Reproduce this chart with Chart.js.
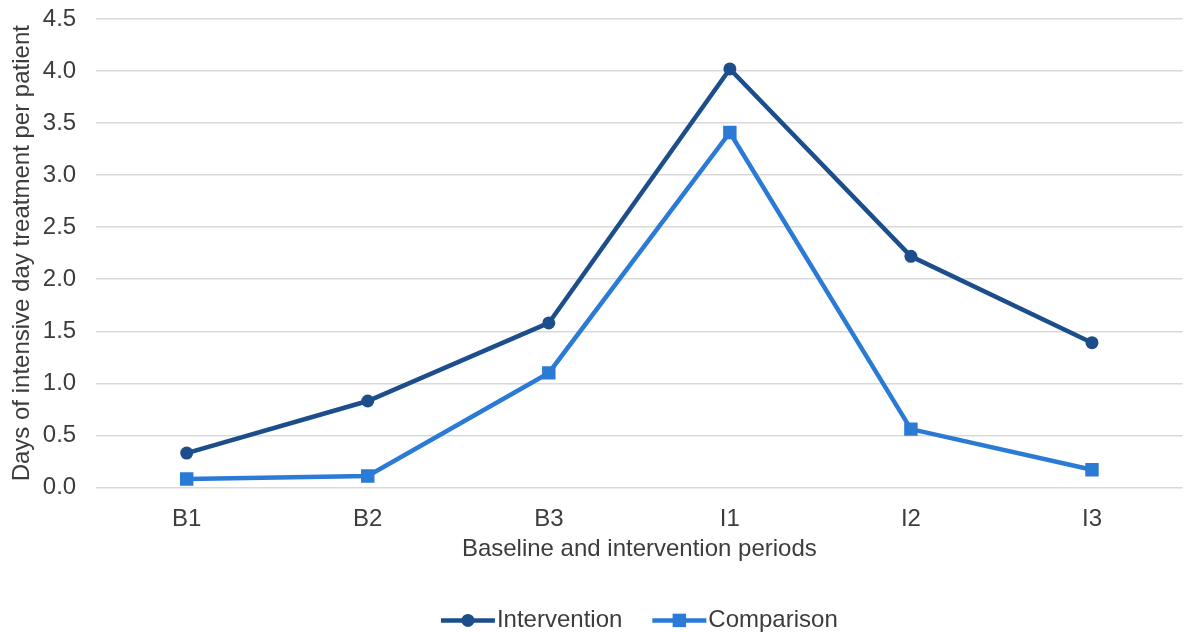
<!DOCTYPE html>
<html>
<head>
<meta charset="utf-8">
<script src="https://cdn.jsdelivr.net/npm/chart.js@4/dist/chart.umd.min.js"></script>
<style>
  html, body { margin: 0; padding: 0; background: #fff; overflow: hidden; }
  #wrap { width: 1192px; height: 633px; }
</style>
</head>
<body>
<div id="wrap"><canvas id="chart"></canvas></div>
<script>
const periods = ['B1', 'B2', 'B3', 'I1', 'I2', 'I3'];
const intervention = [0.33, 0.83, 1.58, 4.02, 2.22, 1.39];
const comparison = [0.08, 0.11, 1.10, 3.41, 0.56, 0.17];
const yTicks = [0, 0.5, 1, 1.5, 2, 2.5, 3, 3.5, 4, 4.5];

const darkBlue = '#1d4e8c';
const lightBlue = '#2a7ad6';
const textColor = '#3c3c3c';
const fontFamily = '"Liberation Sans", Arial, sans-serif';
const fontSize = 24;
const clear = 'rgba(0,0,0,0)';

// legend with a short line + marker in front of each label
const lineLegend = {
  id: 'lineLegend',
  afterDraw(chart) {
    const { ctx, chartArea } = chart;
    const y = chartArea.bottom + 133;
    const lineLen = 54, gap = 2, spacing = 30;
    ctx.save();
    ctx.font = fontSize + 'px ' + fontFamily;
    const items = chart.data.datasets.map(ds => ({
      ds, w: lineLen + gap + ctx.measureText(ds.label).width
    }));
    const total = items.reduce((s, it) => s + it.w, 0) + spacing * (items.length - 1);
    let x = (chartArea.left + chartArea.right) / 2 - total / 2;
    items.forEach(({ ds, w }) => {
      ctx.strokeStyle = ds.borderColor;
      ctx.lineWidth = ds.borderWidth;
      ctx.beginPath();
      ctx.moveTo(x, y);
      ctx.lineTo(x + lineLen, y);
      ctx.stroke();
      ctx.fillStyle = ds.borderColor;
      ctx.beginPath();
      if (ds.pointStyle === 'circle') {
        ctx.arc(x + lineLen / 2, y, ds.pointRadius, 0, Math.PI * 2);
      } else {
        const s = ds.pointRadius * Math.SQRT1_2;
        ctx.rect(x + lineLen / 2 - s, y - s, 2 * s, 2 * s);
      }
      ctx.fill();
      ctx.fillStyle = textColor;
      ctx.textBaseline = 'middle';
      ctx.textAlign = 'left';
      ctx.fillText(ds.label, x + lineLen + gap, y);
      x += w + spacing;
    });
    ctx.restore();
  }
};

new Chart(document.getElementById('chart'), {
  type: 'line',
  data: {
    labels: periods,
    datasets: [
      {
        label: 'Intervention',
        data: intervention,
        borderColor: darkBlue,
        backgroundColor: darkBlue,
        borderWidth: 4.5,
        pointStyle: 'circle',
        pointRadius: 6.5,
        pointBorderWidth: 0,
        tension: 0
      },
      {
        label: 'Comparison',
        data: comparison,
        borderColor: lightBlue,
        backgroundColor: lightBlue,
        borderWidth: 4.5,
        pointStyle: 'rect',
        pointRadius: 9.5,
        pointBorderWidth: 0,
        tension: 0
      }
    ]
  },
  options: {
    responsive: true,
    maintainAspectRatio: false,
    animation: false,
    layout: { padding: { top: 19, left: 8, right: 0, bottom: 69 } },
    plugins: {
      legend: { display: false },
      tooltip: { enabled: false }
    },
    scales: {
      x: {
        offset: true,
        // invisible tick marks give the gap below the plot
        grid: { color: clear, drawTicks: true, tickLength: 18, tickColor: clear },
        border: { display: false },
        ticks: {
          color: textColor,
          padding: 0,
          font: { family: fontFamily, size: fontSize }
        },
        title: {
          display: true,
          text: 'Baseline and intervention periods',
          color: textColor,
          padding: { top: 1, bottom: 0 },
          font: { family: fontFamily, size: fontSize }
        }
      },
      y: {
        min: 0,
        max: 4.5,
        afterBuildTicks(axis) {
          axis.ticks = yTicks.map(v => ({ value: v }));
        },
        grid: {
          color: '#d9d9d9',
          lineWidth: 1.5,
          drawTicks: true,
          tickLength: 20,
          tickColor: clear
        },
        border: { display: false },
        ticks: {
          color: textColor,
          padding: 0,
          callback: v => v.toFixed(1),
          font: { family: fontFamily, size: fontSize }
        },
        title: {
          display: true,
          text: 'Days of intensive day treatment per patient',
          color: textColor,
          padding: { top: 0, bottom: 6 },
          font: { family: fontFamily, size: fontSize }
        }
      }
    }
  },
  plugins: [lineLegend]
});
</script>
</body>
</html>
